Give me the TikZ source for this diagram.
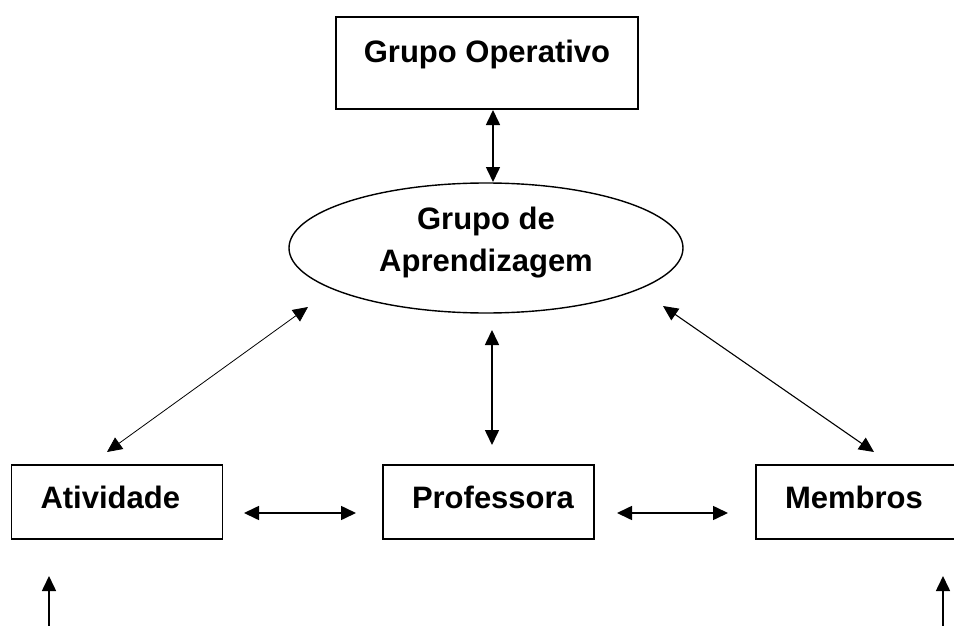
\documentclass[tikz,border=0pt]{standalone}
\usepackage{fontspec}
\setmainfont{Liberation Sans}
\usetikzlibrary{arrows.meta,shapes.geometric}
\begin{document}
\begin{tikzpicture}[x=1pt,y=-1pt,
  lbl/.style={font=\fontsize{31}{42}\selectfont\bfseries},
  box/.style={draw,line width=1.6pt,outer sep=0pt,inner sep=0pt,lbl,text height=22pt,text depth=9pt},
  lowbox/.style={box,minimum width=211pt,minimum height=74pt,text width=211pt,align=left,
    execute at begin node=\hspace*{29pt}},
  link/.style={{Triangle[length=15pt,width=14pt]}-{Triangle[length=15pt,width=14pt]},line width=1.6pt},
  uparrow/.style={-{Triangle[length=15pt,width=14pt]},line width=1.6pt}]
\useasboundingbox (0,0) rectangle (954,626);
\clip (0,0) rectangle (954,626);
% nodes
\node[box,minimum width=302pt,minimum height=92pt,text depth=22pt] (go) at (487,63) {Grupo Operativo};
\node[draw,ellipse,line width=1.4pt,outer sep=0pt,minimum width=394pt,minimum height=130pt,lbl,align=center] (ga) at (486,248)
  {Grupo de\\Aprendizagem\rule[-18pt]{0pt}{0pt}};
\node[lowbox] (act) at (117,502) {Atividade};
\node[lowbox] (prof) at (488.5,502) {Professora};
\node[lowbox] (mem) at (861.5,502) {Membros};
% connector ends
\coordinate (goB) at (493,110);
\coordinate (gaT) at (493,182);
\coordinate (gaL) at (308,307);
\coordinate (actT) at (107,452);
\coordinate (gaR) at (663,306);
\coordinate (memT) at (874,452);
\coordinate (gaB) at (492,330);
\coordinate (profT) at (492,445);
\coordinate (actR) at (244,513);
\coordinate (profL) at (356,513);
\coordinate (profR) at (617,513);
\coordinate (memL) at (728,513);
\coordinate (inL0) at (49,630);
\coordinate (inL1) at (49,576);
\coordinate (inR0) at (943,630);
\coordinate (inR1) at (943,576);
% connectors
\draw[link] (goB) -- (gaT);
\draw[link,line width=0.8pt] (gaL) -- (actT);
\draw[link,line width=1.1pt] (gaR) -- (memT);
\draw[link] (gaB) -- (profT);
\draw[link] (actR) -- (profL);
\draw[link] (profR) -- (memL);
\draw[uparrow] (inL0) -- (inL1);
\draw[uparrow] (inR0) -- (inR1);
\end{tikzpicture}
\end{document}
